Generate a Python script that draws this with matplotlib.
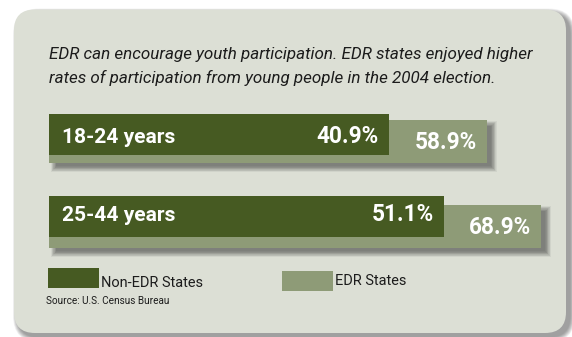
import matplotlib
matplotlib.use('Agg')
import matplotlib.pyplot as plt
from matplotlib.patches import FancyBboxPatch, Rectangle

# ---------------- data ----------------
categories = ['18-24 years', '25-44 years']
non_edr = [40.9, 51.1]
edr = [58.9, 68.9]
series_names = ['Non-EDR States', 'EDR States']
title_lines = ['EDR can encourage youth participation. EDR states enjoyed higher',
               'rates of participation from young people in the 2004 election.']
source_text = 'Source: U.S. Census Bureau'

# ---------------- style ----------------
W, H = 572, 337
DARK = '#465a22'
LIGHT = '#8e9b77'
PANEL = '#dcdfd5'
TEXT = '#1c1c1c'
FONT = 'Roboto'

fig = plt.figure(figsize=(W / 100, H / 100), dpi=100)
fig.patch.set_facecolor('white')
renderer = fig.canvas.get_renderer()

bg = fig.add_axes([0, 0, 1, 1], zorder=0)
bg.set_xlim(0, W)
bg.set_ylim(H, 0)
bg.axis('off')

# panel with soft shadow
px0, py0, px1, py1, rad = 14, 9.5, 566, 333, 21
n = 10
for i in range(n):
    g = 5 * (1 - i / n)
    bg.add_patch(FancyBboxPatch((px0 + 4 - g, py0 + 4 - g), (px1 - px0) + 2 * g, (py1 - py0) + 2 * g,
                                boxstyle=f'round,pad=0,rounding_size={rad + g}',
                                fc='#000000', ec='none', alpha=0.045, zorder=1))
bg.add_patch(FancyBboxPatch((px0, py0), px1 - px0, py1 - py0,
                            boxstyle=f'round,pad=0,rounding_size={rad}',
                            fc=PANEL, ec='none', zorder=2))


def fit(t, target_w):
    w = t.get_window_extent(renderer).width
    t.set_fontsize(t.get_fontsize() * target_w / w)
    return t.get_fontsize()


# title
t1 = bg.text(49, 58.5, title_lines[0], fontsize=10, style='italic', color=TEXT,
             family=FONT, ha='left', va='baseline', zorder=5)
fs = fit(t1, 482)
bg.text(49, 82.5, title_lines[1], fontsize=fs, style='italic', color=TEXT,
        family=FONT, ha='left', va='baseline', zorder=5)

# ---------------- bars ----------------
SCALE = 5.43      # px per percentage point
ORIGIN_PX = 49    # pixel x of bar baseline
BASE = -21.68     # bar baseline value
ax = fig.add_axes([0, 0, 1, 1], zorder=2)
ax.patch.set_alpha(0)
ax.axis('off')
ax.set_xlim(BASE - ORIGIN_PX / SCALE, BASE + (W - ORIGIN_PX) / SCALE)
ax.set_ylim(H, 0)

dark_top = [114, 196]
dark_h = 41
light_top = [120, 205]
light_h = 42.7
dark_base = [143, 221]
light_base = [149.3, 234.3]

# soft shadows under light bars
for v, top in zip(edr, light_top):
    m = 10
    for i in range(m):
        g = 6 * (1 - i / m)
        ax.add_patch(Rectangle((BASE + (8 - g) / SCALE, top + 7 - g),
                               (v - BASE) + 2 * g / SCALE - 4 / SCALE, light_h + 2 * g - 4,
                               fc='#000000', ec='none', alpha=0.05, zorder=1))

ax.barh([t + light_h / 2 for t in light_top], [v - BASE for v in edr], left=BASE,
        height=light_h, color=LIGHT, zorder=2)
ax.barh([t + dark_h / 2 for t in dark_top], [v - BASE for v in non_edr], left=BASE,
        height=dark_h, color=DARK, zorder=3)

cat_fs = None
for cat, yb in zip(categories, dark_base):
    t = ax.annotate(cat, xy=(BASE, yb), xytext=(13, 0), textcoords='offset pixels',
                    ha='left', va='baseline', color='white', fontweight='bold',
                    family=FONT, fontsize=10, zorder=5)
    if cat_fs is None:
        cat_fs = fit(t, 113)
    t.set_fontsize(cat_fs)

val_fs = None
for vals, bases in ((non_edr, dark_base), (edr, light_base)):
    for v, yb in zip(vals, bases):
        t = ax.annotate(f'{v:.1f}%', xy=(v, yb), xytext=(-10, 0), textcoords='offset pixels',
                        ha='right', va='baseline', color='white', fontweight='bold',
                        family=FONT, fontsize=10, zorder=5)
        if val_fs is None:
            val_fs = fit(t, 62)
        t.set_fontsize(val_fs)

# ---------------- legend ----------------
leg_boxes = [(48.3, 268.3), (282.3, 271)]
leg_text_base = [287, 285]
leg_fs = None
for name, col, (lx, ly), yb in zip(series_names, [DARK, LIGHT], leg_boxes, leg_text_base):
    bg.add_patch(Rectangle((lx, ly), 50.5, 19.5, fc=col, ec='none', zorder=5))
    t = bg.text(lx + 52.5, yb, name, fontsize=10, color=TEXT, family=FONT,
                ha='left', va='baseline', zorder=5)
    if leg_fs is None:
        leg_fs = fit(t, 102)
    t.set_fontsize(leg_fs)

ts = bg.text(45.7, 304.3, source_text, fontsize=6, color=TEXT, family=FONT,
             ha='left', va='baseline', zorder=5)
fit(ts, 125)

fig.savefig('out.png', dpi=100, facecolor='white')
